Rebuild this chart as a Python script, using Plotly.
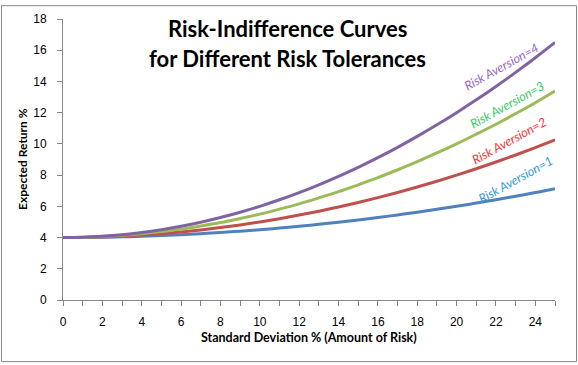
import plotly.graph_objects as go

sigma = list(range(0, 26))
ra1 = [4.0, 4.0, 4.02, 4.05, 4.08, 4.13, 4.18, 4.25, 4.32, 4.41, 4.5, 4.61, 4.72,
       4.85, 4.98, 5.13, 5.28, 5.45, 5.62, 5.81, 6.0, 6.21, 6.42, 6.65, 6.88, 7.13]
ra2 = [4.0, 4.01, 4.04, 4.09, 4.16, 4.25, 4.36, 4.49, 4.64, 4.81, 5.0, 5.21, 5.44,
       5.69, 5.96, 6.25, 6.56, 6.89, 7.24, 7.61, 8.0, 8.41, 8.84, 9.29, 9.76, 10.25]
ra3 = [4.0, 4.02, 4.06, 4.14, 4.24, 4.38, 4.54, 4.74, 4.96, 5.22, 5.5, 5.82, 6.16,
       6.54, 6.94, 7.38, 7.84, 8.34, 8.86, 9.42, 10.0, 10.62, 11.26, 11.94, 12.64, 13.38]
ra4 = [4.0, 4.02, 4.08, 4.18, 4.32, 4.5, 4.72, 4.98, 5.28, 5.62, 6.0, 6.42, 6.88,
       7.38, 7.92, 8.5, 9.12, 9.78, 10.48, 11.22, 12.0, 12.82, 13.68, 14.58, 15.52, 16.5]

series = [
    ("Risk Aversion=1", ra1, "#4F81BD", "#3399DD"),
    ("Risk Aversion=2", ra2, "#C0504D", "#FF3333"),
    ("Risk Aversion=3", ra3, "#9BBB59", "#33CC66"),
    ("Risk Aversion=4", ra4, "#8064A2", "#9966CC"),
]
# label anchor positions (data coords) for the in-chart labels
label_pos = [(23.0, 7.75), (22.7, 10.2), (22.6, 12.5), (22.3, 14.95)]

W, H = 578, 365
L, R, T, B = 63, 23, 15, 65
pw, ph = W - L - R, H - T - B

def px(x):
    return (x - L) / pw

def py(y):
    return (H - B - y) / ph

fig = go.Figure()
for name, vals, col, _ in series:
    fig.add_trace(go.Scatter(x=sigma, y=vals, mode="lines", name=name,
                             line=dict(color=col, width=3, shape="spline"),
                             showlegend=False))

for (name, vals, col, tcol), (lx, ly) in zip(series, label_pos):
    fig.add_annotation(x=lx, y=ly, xref="x", yref="y", text="<i>" + name + "</i>",
                       showarrow=False, textangle=-29, xanchor="center", yanchor="middle",
                       font=dict(family="Lato", size=12.5, color=tcol))

def note(x, y, text, size, angle=0):
    fig.add_annotation(x=px(x), y=py(y), xref="paper", yref="paper", text=text,
                       showarrow=False, textangle=angle, xanchor="center",
                       yanchor="middle", font=dict(family="Lato", size=size, color="black"))

note(287, 25, "<b>Risk-Indifference Curves</b>", 22)
note(287, 55, "<b>for Different Risk Tolerances</b>", 22)
note(22, 157, "<b>Expected Return %</b>", 12, -90)
note(309, 338, "<b>Standard Deviation % (Amount of Risk)</b>", 12.5)

fig.add_shape(type="rect", xref="paper", yref="paper",
              x0=px(1.5), x1=px(576.5), y0=py(362.5), y1=py(1.5),
              line=dict(color="#868686", width=1), layer="below")

axis_common = dict(showline=True, linecolor="#868686", linewidth=1, showgrid=False,
                   zeroline=False, ticks="outside", tickcolor="#868686", ticklen=5,
                   tickfont=dict(family="Liberation Sans", size=12, color="black"))

fig.update_layout(
    width=W, height=H,
    margin=dict(l=L, r=R, t=T, b=B),
    paper_bgcolor="white", plot_bgcolor="white",
    xaxis=dict(range=[0, 25], tickvals=list(range(0, 25, 2)),
               minor=dict(tickvals=list(range(0, 26)), ticks="outside", ticklen=5,
                          tickcolor="#868686"),
               ticklabelstandoff=6, **axis_common),
    yaxis=dict(range=[0, 18], dtick=2, ticklabelstandoff=8, **axis_common),
)

fig.write_html("out.html", config={"displayModeBar": False},
               post_script="document.body.style.margin='0';")
